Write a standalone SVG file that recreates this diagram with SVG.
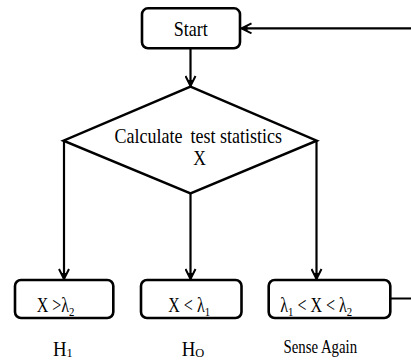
<svg xmlns="http://www.w3.org/2000/svg" width="411" height="361" viewBox="0 0 411 361">
<defs>
<style>
.box{fill:#fff;stroke:#000;stroke-width:2.6}
.edge{fill:none;stroke:#000;stroke-width:2.2}
text{font-family:"Liberation Serif","Times New Roman",serif;fill:#000}
.sub{font-size:13.5px}
</style>
<marker id="arr" viewBox="-12 -6 13 12" markerWidth="13" markerHeight="12" refX="0" refY="0" orient="auto" markerUnits="userSpaceOnUse">
<path d="M-10,-5 L0,0 L-10,5" fill="none" stroke="#000" stroke-width="2"/>
<path d="M-6,-2.6 L0,0 L-6,2.6 Z" fill="#000"/>
</marker>
</defs>
<rect width="411" height="361" fill="#fff"/>
<g id="connectors">
<line class="edge" x1="190.5" y1="48" x2="190.5" y2="86" marker-end="url(#arr)"/>
<line class="edge" x1="64" y1="141" x2="64" y2="279" marker-end="url(#arr)"/>
<line class="edge" x1="190.5" y1="193" x2="190.5" y2="279" marker-end="url(#arr)"/>
<line class="edge" x1="316.5" y1="141" x2="316.5" y2="279" marker-end="url(#arr)"/>
<path class="edge" d="M390,298.5 H425 V28.3 H241.5" marker-end="url(#arr)"/>
</g>
<g id="start">
<rect class="box" x="142" y="8.3" width="98" height="40" rx="6"/>
<text transform="translate(190.8,35.5) scale(0.88,1)" text-anchor="middle" font-size="20.5">Start</text>
</g>
<g id="decision">
<polygon points="190.5,86.7 316.7,140.7 190.5,193.3 63.5,140.7" fill="#fff" stroke="#000" stroke-width="2.5" stroke-linejoin="miter"/>
<text transform="translate(198.3,142.7) scale(0.9,1)" text-anchor="middle" font-size="20">Calculate<tspan dx="4"> test statistics</tspan></text>
<text transform="translate(199.7,165) scale(0.88,1)" text-anchor="middle" font-size="20">X</text>
</g>
<g id="h1box">
<rect class="box" x="15" y="280" width="98.3" height="38" rx="6"/>
<text transform="translate(36.7,312) scale(0.8,1)" font-size="20">X &gt;λ<tspan class="sub" dy="4">2</tspan></text>
</g>
<g id="h0box">
<rect class="box" x="141" y="280" width="100.5" height="38" rx="6"/>
<text transform="translate(168.3,312) scale(0.8,1)" font-size="20">X &lt; λ<tspan class="sub" dy="4">1</tspan></text>
</g>
<g id="againbox">
<rect class="box" x="268.7" y="280" width="121.6" height="38" rx="6"/>
<text transform="translate(280.3,311.7) scale(0.8,1)" font-size="20">λ<tspan class="sub" dy="4">1</tspan><tspan dy="-4"> &lt; X &lt; λ</tspan><tspan class="sub" dy="4">2</tspan></text>
</g>
<g id="labels">
<text transform="translate(53,355.5) scale(0.92,1)" font-size="20.5">H<tspan font-size="13.5" dy="1.5">1</tspan></text>
<text transform="translate(181.7,355.5) scale(0.92,1)" font-size="20.5">H<tspan font-size="13.5" dy="1.5">O</tspan></text>
<text transform="translate(320.3,352.5) scale(0.78,1)" text-anchor="middle" font-size="19">Sense Again</text>
</g>
</svg>
